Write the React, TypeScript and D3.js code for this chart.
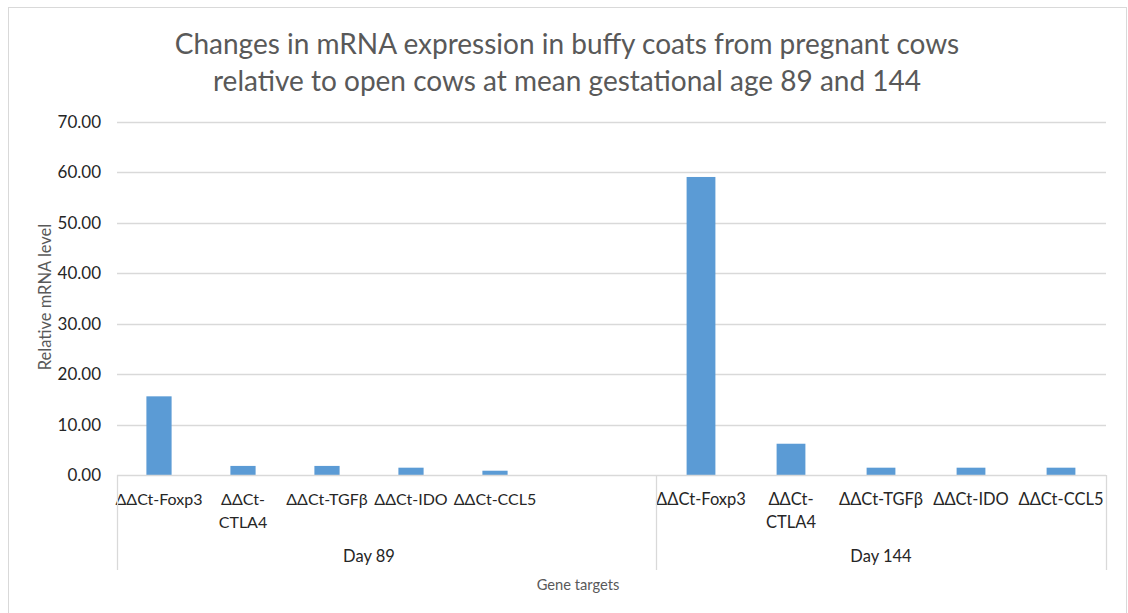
import * as React from 'react';
import { scaleLinear, scaleBand, select, range } from 'd3';

// chart data
const groups = ['Day 89', 'Day 144'];
const genes = ['ΔΔCt-Foxp3', 'ΔΔCt-CTLA4', 'ΔΔCt-TGFβ', 'ΔΔCt-IDO', 'ΔΔCt-CCL5'];
const geneLabelLines = [['ΔΔCt-Foxp3'], ['ΔΔCt-', 'CTLA4'], ['ΔΔCt-TGFβ'], ['ΔΔCt-IDO'], ['ΔΔCt-CCL5']];
const day89Values = [15.6, 1.8, 1.8, 1.45, 0.85];
const day144Values = [59.1, 6.2, 1.45, 1.45, 1.45];
const yTicks = [0, 10, 20, 30, 40, 50, 60, 70];
const titleLines = [
    'Changes in mRNA expression in buffy coats from pregnant cows',
    'relative to open cows at mean gestational age 89 and 144',
];

const FONT = 'Lato, "Open Sans", sans-serif';
const BAR = '#5b9bd5';
const GRID = '#d9d9d9';

export default class App extends React.Component<{}, {}> {
    node: SVGSVGElement | null = null;

    componentDidMount() {
        const svg = select(this.node);
        svg.selectAll('*').remove();

        const plotLeft = 117;
        const plotRight = 1106;
        const y = scaleLinear().domain([0, 70]).range([475, 122]);

        // each group gets its own span on the category axis (Day 89 keeps a blank slot)
        const groupLayout = [
            { x0: 117, x1: 656, slots: 6, step: 84, pad: 0.7, fontSize: 16 },
            { x0: 656, x1: 1106, slots: 5, step: 90, pad: 0.68, fontSize: 16.5 },
        ];
        const groupValues = [day89Values, day144Values];

        svg.append('rect')
            .attr('x', 8.5).attr('y', 7.5)
            .attr('width', 1118).attr('height', 640)
            .attr('fill', '#fff').attr('stroke', GRID);

        // title
        const title = svg.append('text')
            .attr('text-anchor', 'middle')
            .attr('fill', '#595959')
            .attr('font-family', FONT)
            .attr('font-size', 28);
        titleLines.forEach((t, i) => {
            title.append('tspan').attr('x', 567).attr('y', 54 + i * 37).text(t);
        });

        // gridlines + y tick labels
        svg.append('g').selectAll('line').data(yTicks.filter((d) => d > 0)).join('line')
            .attr('x1', plotLeft).attr('x2', plotRight)
            .attr('y1', (d) => Math.round(y(d)) + 0.5).attr('y2', (d) => Math.round(y(d)) + 0.5)
            .attr('stroke', GRID).attr('stroke-width', 1.3);

        svg.append('g').selectAll('text').data(yTicks).join('text')
            .attr('x', 101).attr('y', (d) => y(d) + 6)
            .attr('text-anchor', 'end')
            .attr('font-family', FONT).attr('font-size', 17)
            .attr('fill', '#262626')
            .text((d) => d.toFixed(2));

        // bars
        groupLayout.forEach((gl, gi) => {
            const slotNames = range(gl.slots).map((i) => (i < genes.length ? genes[i] : `blank${i}`));
            const x = scaleBand<string>()
                .domain(slotNames)
                .range([gl.x0, gl.x0 + gl.slots * gl.step])
                .paddingInner(gl.pad)
                .paddingOuter(gl.pad / 2);

            svg.append('g').selectAll('rect').data(groupValues[gi]).join('rect')
                .attr('x', (_, i) => x(genes[i]) as number)
                .attr('width', x.bandwidth())
                .attr('y', (d) => y(d))
                .attr('height', (d) => y(0) - y(d))
                .attr('fill', BAR);

            const lab = svg.append('g').selectAll('text').data(geneLabelLines).join('text')
                .attr('text-anchor', 'middle')
                .attr('font-family', FONT).attr('font-size', gl.fontSize)
                .attr('fill', '#262626');
            lab.each(function (lines, i) {
                const cx = (x(genes[i]) as number) + x.bandwidth() / 2;
                lines.forEach((l, li) => {
                    select(this).append('tspan').attr('x', cx).attr('y', 505 + li * 23).text(l);
                });
            });

            svg.append('text')
                .attr('x', gl.x0 + (gi === 0 ? gl.slots * gl.step : gl.x1 - gl.x0) / 2)
                .attr('y', 562)
                .attr('text-anchor', 'middle')
                .attr('font-family', FONT).attr('font-size', 16.5)
                .attr('fill', '#262626')
                .text(groups[gi]);
        });

        // category axis line and group separators
        svg.append('line')
            .attr('x1', plotLeft).attr('x2', plotRight)
            .attr('y1', 475.5).attr('y2', 475.5)
            .attr('stroke', GRID).attr('stroke-width', 1.3);
        svg.append('g').selectAll('line').data([plotLeft, groupLayout[0].x1, plotRight]).join('line')
            .attr('x1', (d) => d + 0.5).attr('x2', (d) => d + 0.5)
            .attr('y1', 475).attr('y2', 570)
            .attr('stroke', GRID).attr('stroke-width', 1.3);

        // axis titles
        svg.append('text')
            .attr('transform', 'translate(51, 297) rotate(-90)')
            .attr('text-anchor', 'middle')
            .attr('font-family', FONT).attr('font-size', 16.5)
            .attr('fill', '#595959')
            .text('Relative mRNA level');

        svg.append('text')
            .attr('x', 578).attr('y', 590)
            .attr('text-anchor', 'middle')
            .attr('font-family', FONT).attr('font-size', 14.7)
            .attr('fill', '#595959')
            .text('Gene targets');
    }

    render() {
        return (
            <svg
                ref={(node) => { this.node = node; }}
                width={1128}
                height={613}
                style={{ position: 'absolute', left: 0, top: 0, display: 'block' }}
            />
        );
    }
}
